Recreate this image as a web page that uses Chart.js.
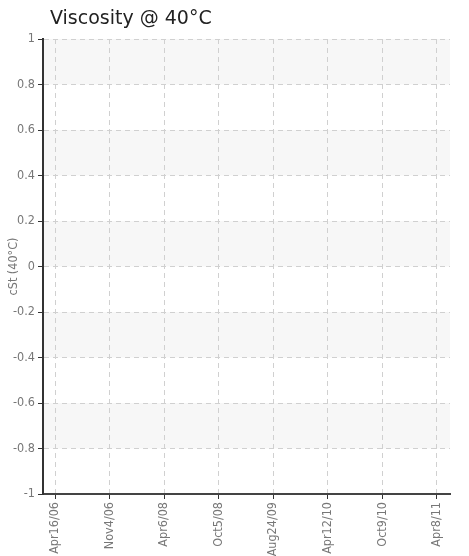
<!DOCTYPE html>
<html>
<head>
<meta charset="utf-8">
<script src="https://cdn.jsdelivr.net/npm/chart.js@4"></script>
<style>
  html, body { margin: 0; padding: 0; background: #fff; }
  #wrap { width: 469px; height: 556px; position: relative; }
</style>
</head>
<body>
<div id="wrap"><canvas id="c" width="469" height="556"></canvas></div>
<script>
const TITLE = 'Viscosity @ 40°C';
const Y_TITLE = 'cSt (40°C)';
const X_LABELS = ['Apr16/06', 'Nov4/06', 'Apr6/08', 'Oct5/08', 'Aug24/09', 'Apr12/10', 'Oct9/10', 'Apr8/11'];
const Y_TICKS = [1, 0.8, 0.6, 0.4, 0.2, 0, -0.2, -0.4, -0.6, -0.8, -1];
const VISCOSITY = []; // no readings plotted

const TICK_FONT = { family: "'DejaVu Sans Condensed', 'DejaVu Sans', sans-serif", size: 12.5 };

const bandsPlugin = {
  id: 'bands',
  beforeDraw(chart) {
    const { ctx, chartArea: a, scales: { y } } = chart;
    ctx.save();
    ctx.fillStyle = '#f7f7f7';
    for (let i = 0; i < Y_TICKS.length - 1; i += 2) {
      const top = y.getPixelForValue(Y_TICKS[i]);
      const bot = y.getPixelForValue(Y_TICKS[i + 1]);
      ctx.fillRect(a.left, top, a.right - a.left, bot - top);
    }
    ctx.restore();
  }
};

const titlePlugin = {
  id: 'leftTitle',
  afterDraw(chart) {
    const { ctx, chartArea: a } = chart;
    ctx.save();
    ctx.fillStyle = '#222';
    ctx.font = "19px 'DejaVu Sans', Verdana, sans-serif";
    ctx.textBaseline = 'alphabetic';
    ctx.textAlign = 'left';
    ctx.fillText(TITLE, a.left + 7, 24);
    ctx.restore();
  }
};

new Chart(document.getElementById('c'), {
  type: 'scatter',
  data: {
    datasets: [{ label: 'cSt', data: VISCOSITY.map((v, i) => ({ x: i, y: v })) }]
  },
  options: {
    responsive: false,
    animation: false,
    layout: { padding: { top: 39, right: 19, left: 0, bottom: 0 } },
    plugins: { legend: { display: false }, title: { display: false }, tooltip: { enabled: false } },
    scales: {
      x: {
        type: 'linear',
        min: -0.22,
        max: X_LABELS.length - 1 + 0.24,
        afterBuildTicks(scale) { scale.ticks = X_LABELS.map((_, i) => ({ value: i })); },
        afterFit(scale) { scale.height = 62; },
        ticks: {
          autoSkip: false, minRotation: 90, maxRotation: 90,
          color: '#777', font: TICK_FONT, padding: 3,
          callback: (v) => X_LABELS[v]
        },
        grid: {
          color: '#d0d0d0', tickLength: 5,
          tickColor: '#333', tickBorderDash: [], tickWidth: 1
        },
        border: { color: '#444', width: 2, dash: [5, 4] }
      },
      y: {
        min: -1, max: 1,
        afterBuildTicks(scale) { scale.ticks = Y_TICKS.map(v => ({ value: v })); },
        afterFit(scale) { scale.width = 43; },
        ticks: {
          color: '#777', font: TICK_FONT, padding: 3,
          callback: (v) => String(Y_TICKS.find(t => Math.abs(t - v) < 1e-9))
        },
        grid: {
          color: (c) => (c.tick && c.tick.value === -1) ? 'rgba(0,0,0,0)' : '#d0d0d0',
          tickLength: 5,
          tickColor: '#333', tickBorderDash: [], tickWidth: 1
        },
        border: { color: '#333', width: 2, dash: [5, 4] },
        title: { display: true, text: Y_TITLE, color: '#777', font: TICK_FONT, padding: { top: 6, bottom: 2 } }
      }
    }
  },
  plugins: [bandsPlugin, titlePlugin]
});
</script>
</body>
</html>
